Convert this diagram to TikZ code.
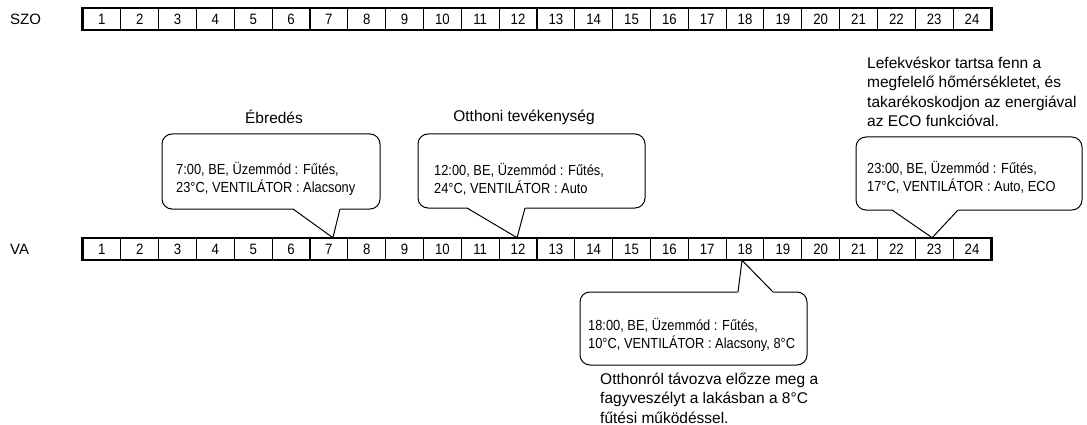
\documentclass[tikz,border=0pt]{standalone}
\usepackage{fontspec}
\setmainfont{Liberation Sans}
\newfontfamily\narrowfont{Liberation Sans}[FakeStretch=0.88]
\begin{document}
\begin{tikzpicture}[x=1pt,y=-1pt,
  cell/.style={draw, line width=1.1pt, minimum width=37.83pt, minimum height=21.5pt, inner sep=0pt, font=\narrowfont\fontsize{15}{17}\selectfont},
  bubble/.style={draw, line width=1pt, rounded corners=10pt, fill=white, inner sep=0pt},
  ctext/.style={anchor=west, align=left, inner sep=0pt, font=\narrowfont\fontsize{14.6}{18}\selectfont},
  lbl/.style={inner sep=0pt, font=\fontsize{15.5}{19.5}\selectfont},
  rowlbl/.style={anchor=west, inner sep=0pt, font=\fontsize{15}{18}\selectfont},
  ptr/.style={line width=1pt, line join=miter}]

\useasboundingbox (0,0) rectangle (1087,425);

% time rows
\foreach \i in {1,...,24} {
  \node[cell] (s\i) at ({83+(\i-0.5)*37.83},19) {\i};
  \node[cell] (v\i) at ({83+(\i-0.5)*37.83},249) {\i};
}
\draw[line width=2.2pt] (s1.north west) rectangle (s24.south east);
\draw[line width=2.2pt] (v1.north west) rectangle (v24.south east);
\node[rowlbl] (szo) at (10,19) {SZO};
\node[rowlbl] (va) at (10,249) {VA};

% bubble 1
\node[bubble, minimum width=218pt, minimum height=75pt] (b1) at (271,171.5) {};
\coordinate (k1) at ([xshift=4pt]v7.north);
\fill[white] (292.5,208) -- (k1) -- (340.5,208) -- cycle;
\draw[ptr] (293,209) -- (k1) -- (340,209);
\node[ctext] (t1) at (176,179) {7:00, BE, Üzemmód : Fűtés,\\23°C, VENTILÁTOR : Alacsony};
\node[lbl] (l1) at (274,117) {Ébredés};

% bubble 2
\node[bubble, minimum width=227pt, minimum height=74pt] (b2) at (531.5,171) {};
\coordinate (k2) at ([xshift=-1pt]v12.north);
\fill[white] (466.5,207) -- (k2) -- (525.5,207) -- cycle;
\draw[ptr] (467,208) -- (k2) -- (525,208);
\node[ctext] (t2) at (434,179) {12:00, BE, Üzemmód : Fűtés,\\24°C, VENTILÁTOR : Auto};
\node[lbl] (l2) at (524,117) {Otthoni tevékenység};

% bubble 3
\node[bubble, minimum width=226pt, minimum height=73pt] (b3) at (969,173.5) {};
\coordinate (k3) at ([xshift=-2pt]v23.north);
\fill[white] (891.5,209) -- (k3) -- (958.5,209) -- cycle;
\draw[ptr] (892,210) -- (k3) -- (958,210);
\node[ctext] (t3) at (867,177) {23:00, BE, Üzemmód : Fűtés,\\17°C, VENTILÁTOR : Auto, ECO};
\node[lbl, anchor=west, align=left] (l3) at (867,92) {Lefekvéskor tartsa fenn a\\megfelelő hőmérsékletet, és\\takarékoskodjon az energiával\\az ECO funkcióval.};

% bubble 4
\node[bubble, minimum width=227pt, minimum height=73pt] (b4) at (693.5,328.5) {};
\coordinate (k4) at ([xshift=-3pt]v18.south);
\fill[white] (737.5,293) -- (k4) -- (773.5,293) -- cycle;
\draw[ptr] (738,292) -- (k4) -- (773,292);
\node[ctext] (t4) at (588,335) {18:00, BE, Üzemmód : Fűtés,\\10°C, VENTILÁTOR : Alacsony, 8°C};
\node[lbl, anchor=west, align=left] (l4) at (600,398) {Otthonról távozva előzze meg a\\fagyveszélyt a lakásban a 8°C\\fűtési működéssel.};
\end{tikzpicture}
\end{document}
